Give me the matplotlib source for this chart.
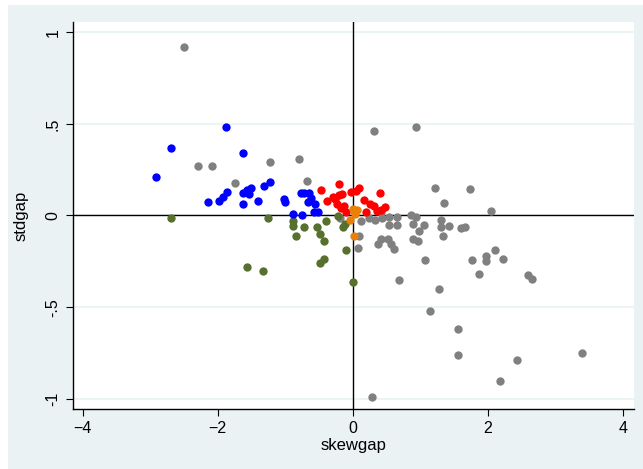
import matplotlib.pyplot as plt
from matplotlib.patches import Rectangle

plt.rcParams['font.family'] = ['Liberation Sans', 'DejaVu Sans']

# skewgap / stdgap by group
grey_x = [-2.50, -2.29, -2.08, -1.75, -1.22, -0.80, -0.68, 0.31, 0.93, 1.22, 1.74, 1.35, 2.04,
          -0.19, 0.12, 0.24, 0.33, 0.42, 0.44, 0.54, 0.66, 0.54, 0.66, 0.86, 0.94, 0.89, 1.06,
          0.98, 1.30, 1.31, 1.42, 1.60, 1.66, 1.33, 0.09, 0.08, 0.37, 0.42, 0.52, 0.56, 0.61,
          0.89, 0.97, 1.07, 0.68, 1.28, 1.14, 1.76, 1.87, 1.98, 1.98, 2.11, 2.22, 2.60, 2.66,
          1.56, 1.56, 2.43, 2.18, 3.39, 0.28]
grey_y = [0.92, 0.27, 0.27, 0.175, 0.29, 0.31, 0.19, 0.46, 0.48, 0.15, 0.145, 0.07, 0.025,
          -0.015, -0.03, -0.015, -0.025, 0.02, -0.015, -0.01, -0.01, -0.05, -0.05, 0.0, -0.01, -0.045, -0.05,
          -0.085, -0.025, -0.06, -0.055, -0.07, -0.06, -0.11, -0.11, -0.175, -0.155, -0.13, -0.13, -0.155, -0.18,
          -0.13, -0.14, -0.245, -0.35, -0.40, -0.52, -0.245, -0.32, -0.22, -0.25, -0.19, -0.235, -0.325, -0.345,
          -0.62, -0.76, -0.79, -0.90, -0.75, -0.99]

green_x = [-2.69, -1.26, -0.89, -0.88, -0.84, -1.56, -1.33, -0.72, -0.53, -0.40, -0.48, -0.42,
           -0.43, -0.49, -0.10, 0.0, -0.15, -0.12, -0.22]
green_y = [-0.015, -0.015, -0.03, -0.055, -0.11, -0.28, -0.30, -0.065, -0.06, -0.03, -0.10, -0.14,
           -0.235, -0.26, -0.19, -0.365, -0.06, -0.045, -0.005]

blue_x = [-2.69, -2.92, -1.88, -1.62, -2.15, -1.98, -1.92, -1.86, -1.63, -1.63, -1.56, -1.50, -1.53,
          -1.41, -1.32, -1.22, -1.02, -1.01, -0.89, -0.75, -0.77, -0.72, -0.65, -0.62, -0.56, -0.52,
          -0.58, -0.67]
blue_y = [0.37, 0.21, 0.48, 0.34, 0.075, 0.08, 0.10, 0.13, 0.065, 0.12, 0.14, 0.15, 0.115,
          0.08, 0.16, 0.18, 0.09, 0.075, 0.01, 0.005, 0.12, 0.12, 0.12, 0.095, 0.065, 0.02,
          0.02, 0.075]

red_x = [-0.47, -0.21, -0.16, -0.38, -0.26, -0.23, -0.18, -0.13, -0.10, -0.02, 0.045, 0.085, 0.17,
         0.26, 0.31, 0.41, 0.19, 0.36, 0.42, 0.48, -0.30, -0.20]
red_y = [0.14, 0.17, 0.115, 0.08, 0.09, 0.065, 0.04, 0.05, 0.02, 0.13, 0.135, 0.15, 0.085,
         0.065, 0.05, 0.12, 0.02, 0.025, 0.03, 0.045, 0.10, 0.11]

orange_x = [0.0, 0.06, 0.04, 0.02, -0.045, 0.02]
orange_y = [0.035, 0.03, 0.01, 0.025, -0.025, -0.11]

xticks = [-4, -2, 0, 2, 4]
yticks = [-1, -0.5, 0, 0.5, 1]
ytick_labels = ['-1', '-.5', '0', '.5', '1']

fig = plt.figure(figsize=(6.43, 4.69), dpi=100)
fig.patches.append(Rectangle((8 / 643, 0), 1, 1 - 5 / 469, transform=fig.transFigure,
                             facecolor='#eaf2f3', edgecolor='none', zorder=-10))
ax = fig.add_axes([72.5 / 643, 1 - 409.3 / 469, 561.5 / 643, 387.6 / 469])
ax.set_facecolor('white')

ms = 36
ax.scatter(grey_x, grey_y, s=ms, color='#808080', linewidths=0, zorder=3)
ax.scatter(green_x, green_y, s=ms, color='#58702d', linewidths=0, zorder=3)
ax.scatter(blue_x, blue_y, s=ms, color='#0000ff', linewidths=0, zorder=3)
ax.scatter(red_x, red_y, s=ms, color='#ff0000', linewidths=0, zorder=3)
ax.scatter(orange_x, orange_y, s=ms, color='#e8800a', linewidths=0, zorder=3)

ax.axhline(0, color='black', lw=1, zorder=2)
ax.axvline(0, color='black', lw=1, zorder=2)

ax.set_xlim(-4.15, 4.164)
ax.set_ylim(-1.057, 1.057)
ax.set_xticks(xticks)
ax.set_yticks(yticks)
ax.set_yticklabels(ytick_labels, rotation=90, va='center')
ax.grid(axis='y', color='#eaf2f3', lw=1.2, zorder=1)
ax.tick_params(labelsize=11.5, length=4.7, width=0.8, color='black', pad=4)

for s in ['top', 'right']:
    ax.spines[s].set_visible(False)
for s in ['left', 'bottom']:
    ax.spines[s].set_linewidth(1)

ax.set_xlabel('skewgap', fontsize=12, labelpad=1)
ax.set_ylabel('stdgap', fontsize=12, labelpad=12)

fig.savefig('out.png', dpi=100)
